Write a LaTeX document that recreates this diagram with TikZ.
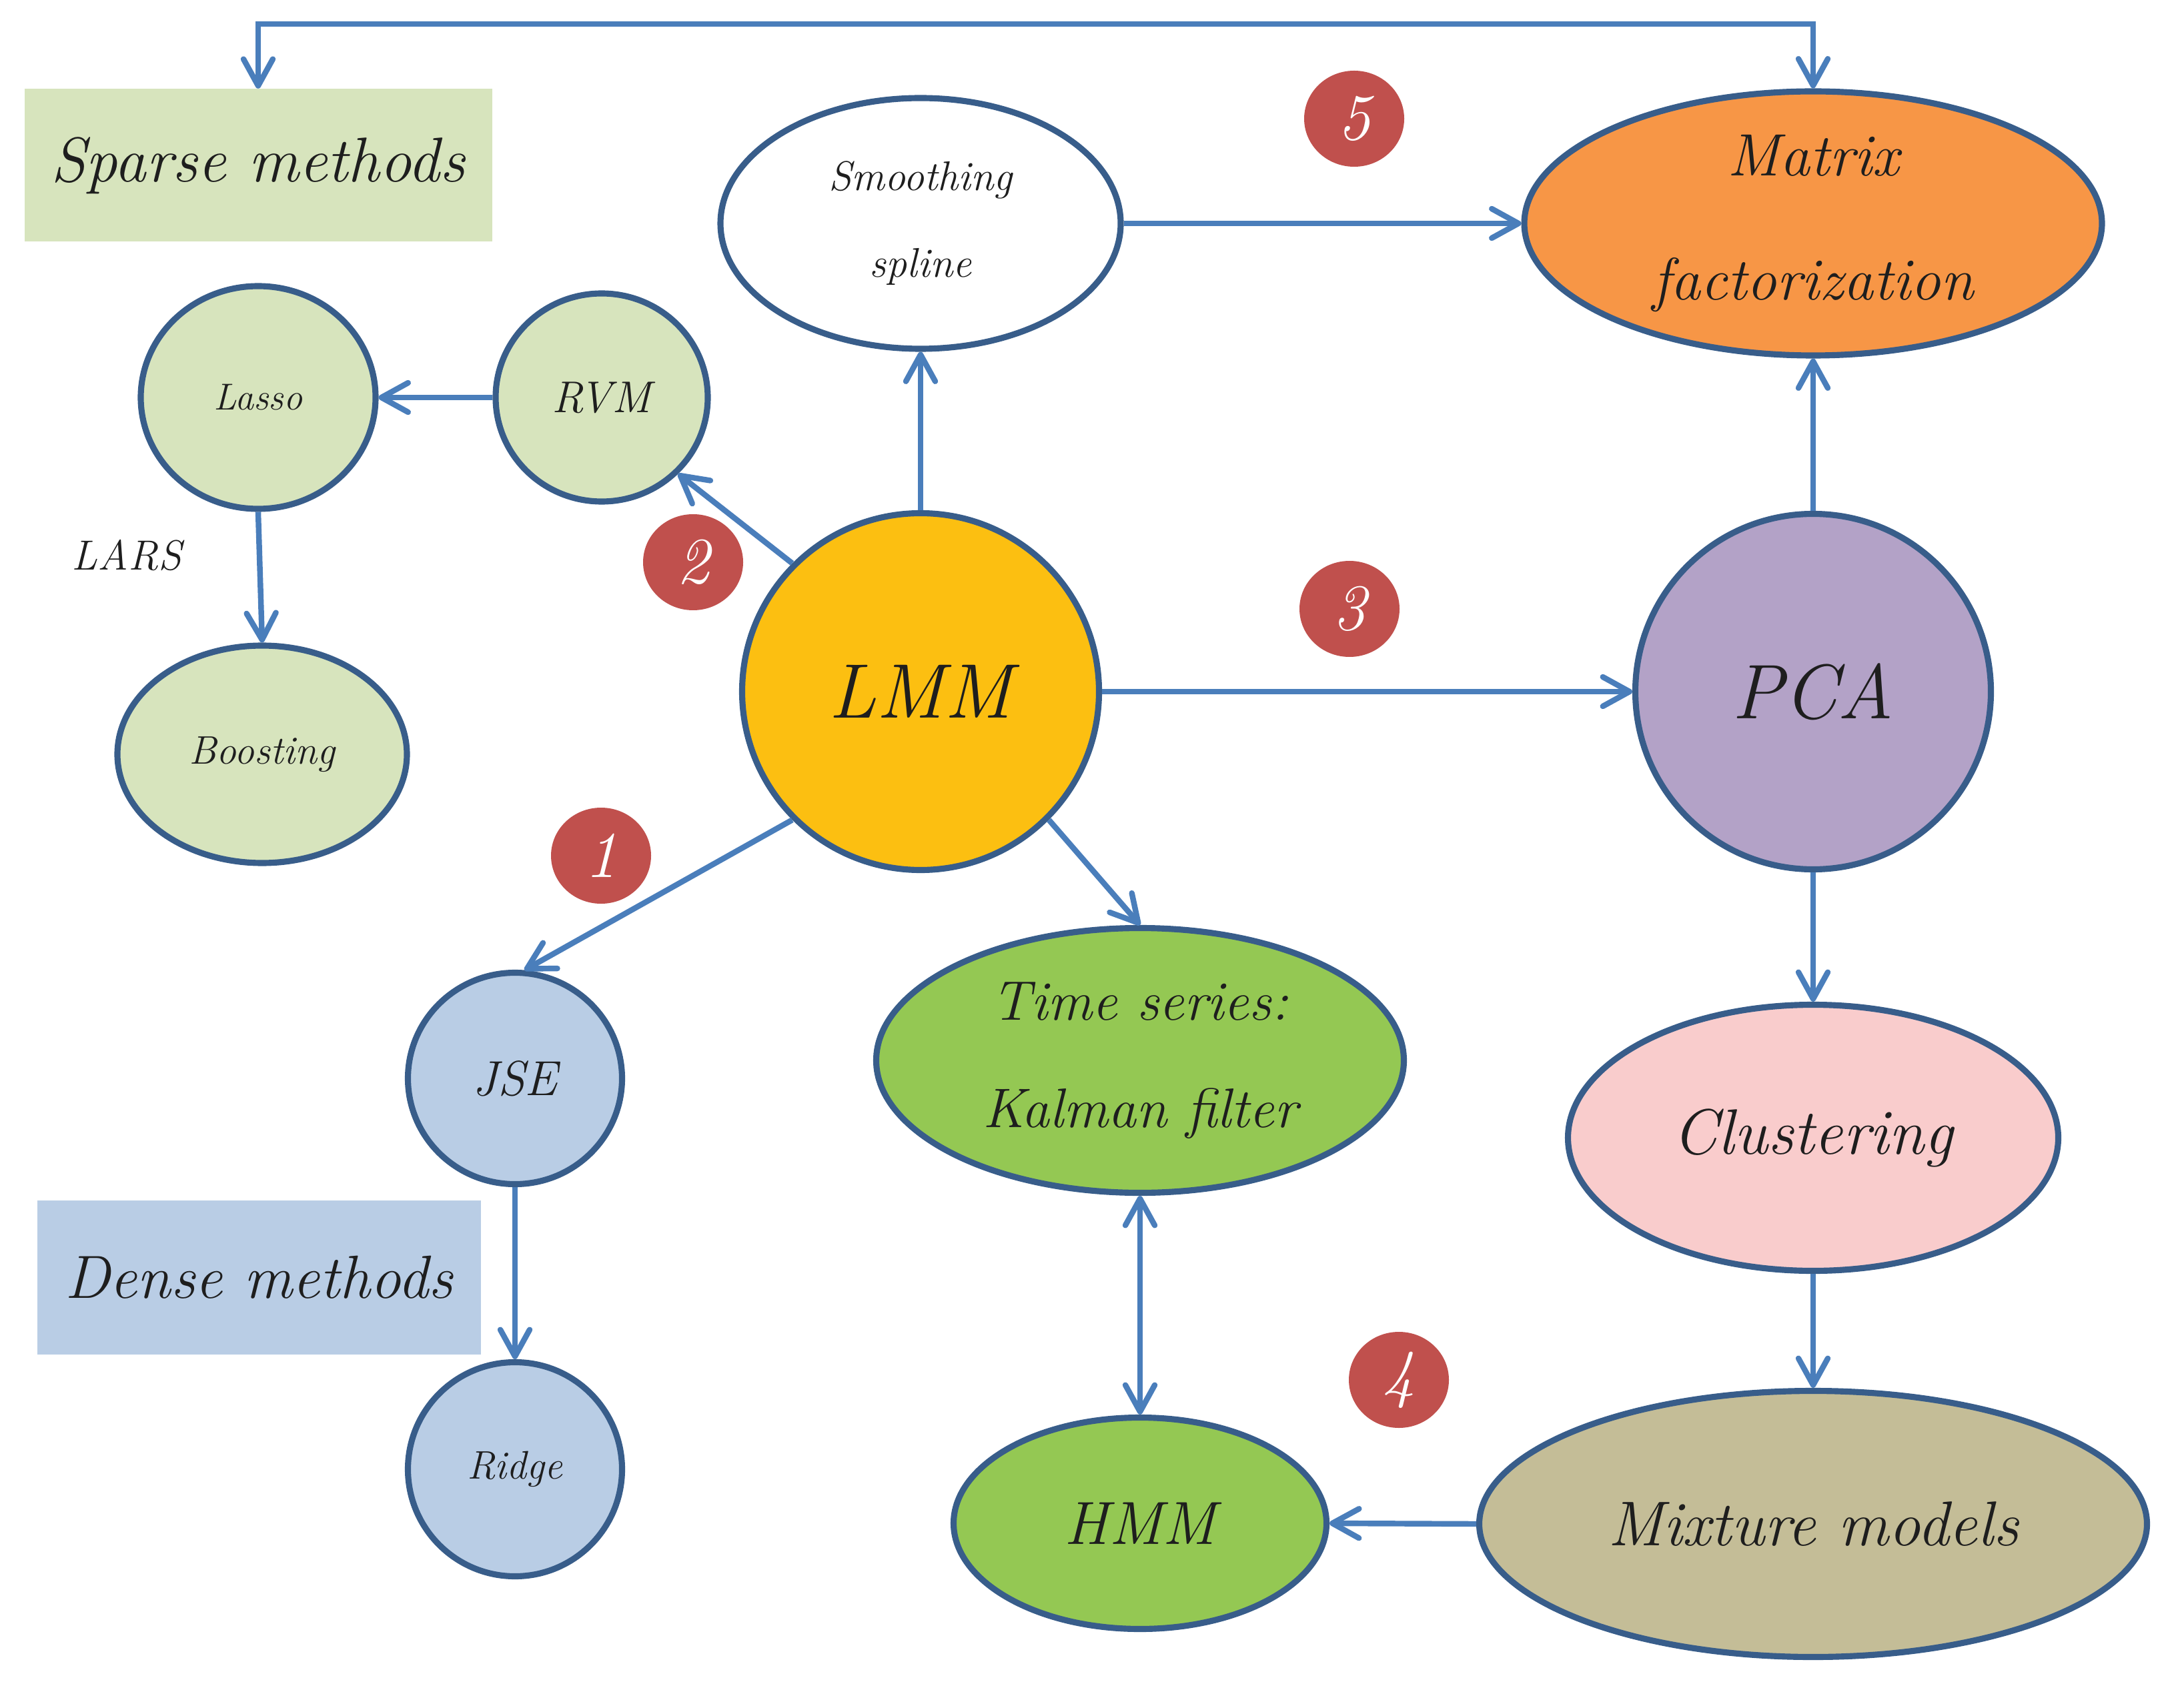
\documentclass[tikz,border=0pt]{standalone}
\usepackage{fontspec}
\usepackage{tikz}
\usetikzlibrary{shapes.geometric, arrows.meta, positioning, calc}

\definecolor{arrowblue}{RGB}{74,126,187}
\definecolor{rimblue}{RGB}{56,93,138}
\definecolor{sparsegreen}{RGB}{215,228,189}
\definecolor{denseblue}{RGB}{185,205,229}
\definecolor{lmmgold}{RGB}{252,191,17}
\definecolor{pcaviolet}{RGB}{179,162,199}
\definecolor{mforange}{RGB}{247,150,70}
\definecolor{tsgreen}{RGB}{148,200,83}
\definecolor{clusterpink}{RGB}{249,204,204}
\definecolor{mixtan}{RGB}{196,189,151}
\definecolor{badgered}{RGB}{192,80,77}
\definecolor{inkblack}{RGB}{30,30,30}

\newcommand{\fs}[2]{\fontsize{#1}{#2}\selectfont\itshape}

\begin{document}
\begin{tikzpicture}[
    >={Straight Barb[length=4mm, width=4.4mm, round]},
    blob/.style={ellipse, draw=rimblue, line width=2.6pt, inner sep=0pt, text=inkblack, align=center},
    flow/.style={->, draw=arrowblue, line width=2.4pt},
    badge/.style={ellipse, fill=badgered, minimum width=1.5cm, minimum height=1.44cm, inner sep=0pt, text=white, font=\fs{28}{30}},
    tag/.style={rectangle, inner sep=0pt, text=inkblack, font=\fs{26}{30}}
]
\useasboundingbox (0,0) rectangle (32.74,25.30);

% Method groups
\node[tag, fill=sparsegreen, minimum width=7.01cm, minimum height=2.29cm, font=\fs{27}{30}] (sparse) at (3.87,22.82) {Sparse methods};
\node[tag, fill=denseblue, minimum width=6.65cm, minimum height=2.31cm] (dense) at (3.88,6.15) {Dense methods};

% Sparse side
\node[blob, fill=sparsegreen, minimum width=3.52cm, minimum height=3.34cm, font=\fs{16}{18}] (lasso) at (3.87,19.34) {Lasso};
\node[blob, fill=sparsegreen, minimum width=3.18cm, minimum height=3.12cm, font=\fs{19}{20}] (rvm) at (9.02,19.34) {RVM};
\node[text=inkblack, font=\fs{18}{20}] (lars) at (1.90,16.97) {LARS};
\node[blob, fill=sparsegreen, minimum width=4.34cm, minimum height=3.26cm, font=\fs{17}{18}] (boost) at (3.93,13.99) {Boosting};

% Dense side
\node[blob, fill=denseblue, minimum width=3.21cm, minimum height=3.17cm, font=\fs{21}{22}] (jse) at (7.72,9.13) {JSE};
\node[blob, fill=denseblue, minimum width=3.21cm, minimum height=3.21cm, font=\fs{17}{18}] (ridge) at (7.72,3.27) {Ridge};

% Centre and right column
\node[blob, circle, fill=lmmgold, minimum size=5.35cm, font=\fs{33}{36}] (lmm) at (13.80,14.93) {LMM};
\node[blob, fill=white, minimum width=6.0cm, minimum height=3.76cm, font=\fs{17.7}{37}] (spline) at (13.80,21.95) {Smoothing\\spline};
\node[blob, fill=mforange, minimum width=8.66cm, minimum height=3.96cm, font=\fs{25.5}{53}] (matrix) at (27.18,21.95) {Matrix\\factorization};
\node[blob, circle, fill=pcaviolet, minimum size=5.33cm, font=\fs{33}{36}] (pca) at (27.18,14.93) {PCA};
\node[blob, fill=tsgreen, minimum width=7.91cm, minimum height=3.97cm, font=\fs{23.8}{46}] (ts) at (17.09,9.40) {Time series:\\Kalman filter};
\node[blob, fill=clusterpink, minimum width=7.35cm, minimum height=3.99cm, font=\fs{27.4}{30}] (clust) at (27.18,8.24) {Clustering};
\node[blob, fill=tsgreen, minimum width=5.59cm, minimum height=3.17cm, font=\fs{26}{28}] (hmm) at (17.09,2.46) {HMM};
\node[blob, fill=mixtan, minimum width=10.01cm, minimum height=3.99cm, font=\fs{27}{30}] (mix) at (27.18,2.45) {Mixture models};

% Numbered badges
\node[badge] (b1) at (9.01,12.47) {1};
\node[badge] (b2) at (10.39,16.87) {2};
\node[badge] (b3) at (20.23,16.17) {3};
\node[badge] (b4) at (20.97,4.61) {4};
\node[badge] (b5) at (20.30,23.52) {5};

% Connectors
\draw[flow] (rvm.west) -- (lasso.east);
\draw[flow] (lasso.south) -- (boost.north);
\draw[flow] (lmm.135) -- (rvm.-45);
\draw[flow] (lmm.north) -- (spline.south);
\draw[flow] (spline.east) -- (matrix.west);
\draw[flow] (lmm.east) -- (pca.west);
\draw[flow] (pca.north) -- (matrix.south);
\draw[flow] (pca.south) -- (clust.north);
\draw[flow] (clust.south) -- (mix.north);
\draw[flow] (mix.west) -- (hmm.east);
\draw[flow, <->] (ts.south) -- (hmm.north);
\draw[flow] (lmm.-45) -- (ts.north);
\draw[flow] (lmm.-135) -- (jse.85);
\draw[flow] (jse.south) -- (ridge.north);

% Link over the top
\coordinate (topline) at (16,24.94);
\draw[flow, <->] (sparse.north) |- (topline) -| (matrix.north);
\end{tikzpicture}
\end{document}
